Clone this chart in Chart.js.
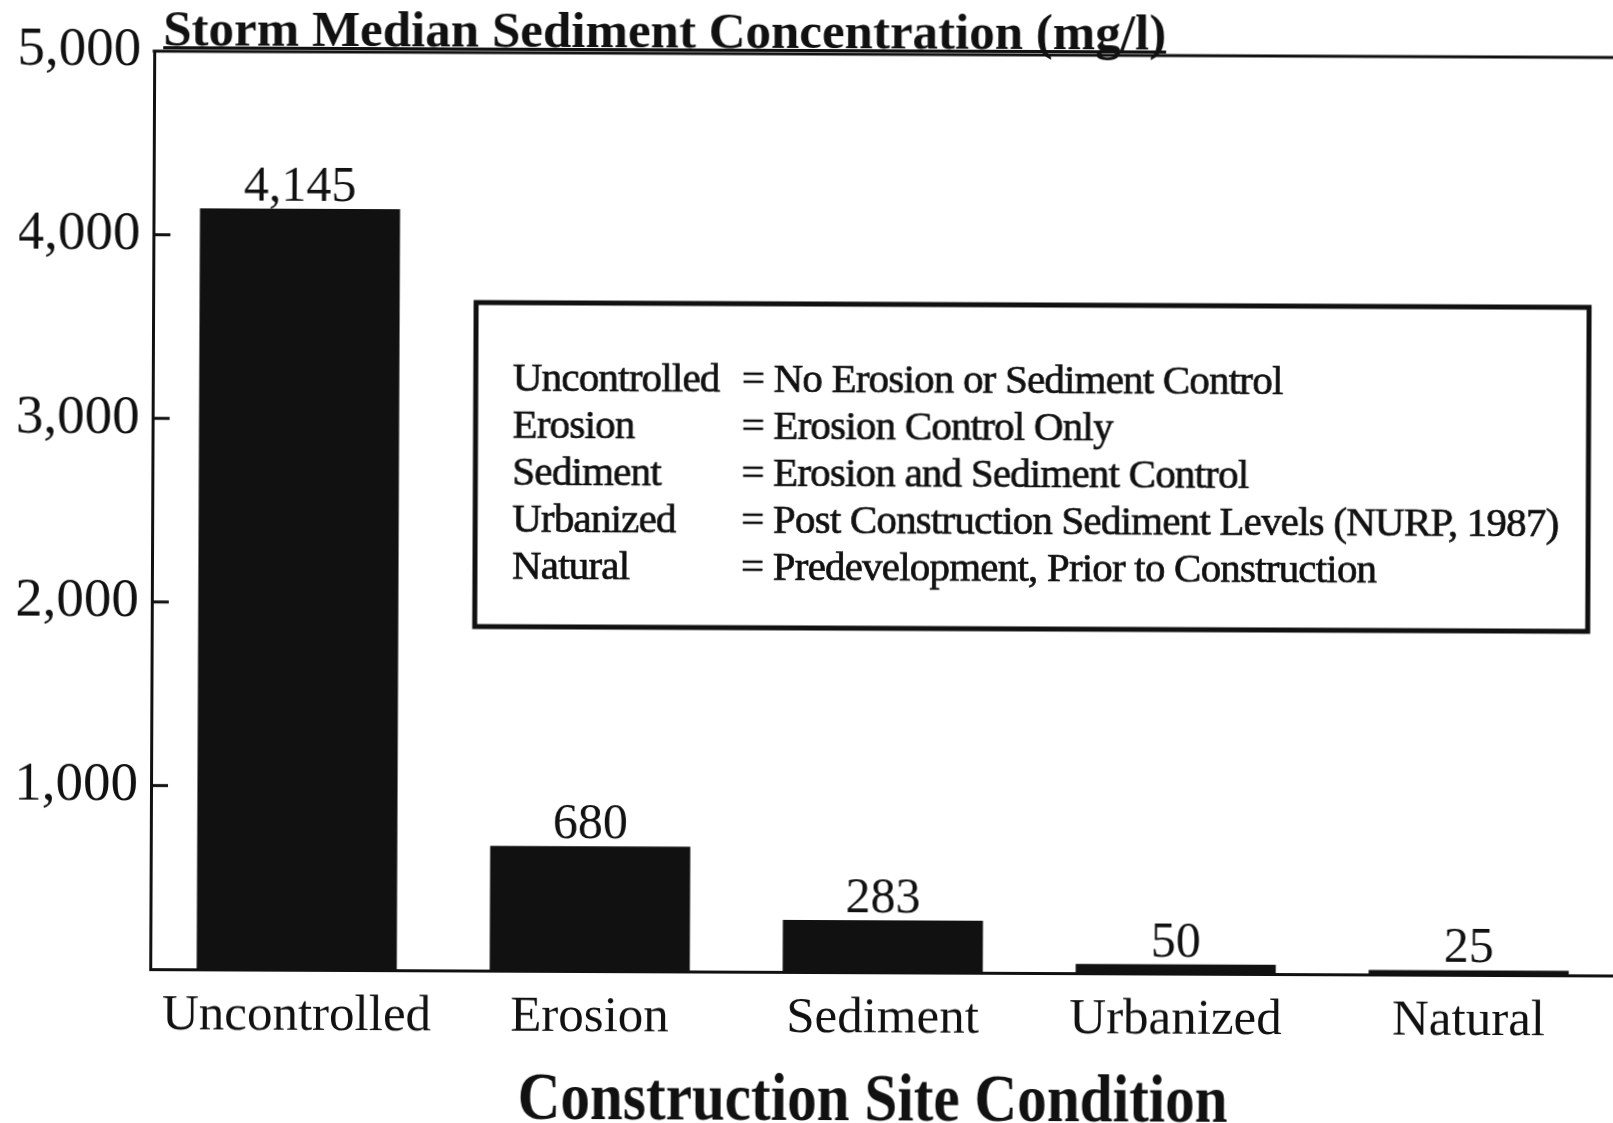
<!DOCTYPE html>
<html>
<head>
<meta charset="utf-8">
<title>Storm Median Sediment Concentration</title>
<script src="https://cdn.jsdelivr.net/npm/chart.js@4.4.1/dist/chart.umd.min.js"></script>
<style>
  html, body { margin: 0; padding: 0; background: #fff; overflow: hidden; }
  /* скан слегка повёрнут */
  canvas { display: block; transform: rotate(0.25deg); }
</style>
</head>
<body>
<canvas id="chart" width="1620" height="1123"></canvas>
<script>
// Данные
const categories = ['Uncontrolled', 'Erosion', 'Sediment', 'Urbanized', 'Natural'];
const values = [4145, 680, 283, 50, 25];
const yTicks = [0, 1000, 2000, 3000, 4000, 5000];
const yTickLabels = ['', '1,000', '2,000', '3,000', '4,000', '5,000'];
const legendTerms = ['Uncontrolled', 'Erosion', 'Sediment', 'Urbanized', 'Natural'];
const legendDefs = [
  '= No Erosion or Sediment Control',
  '= Erosion Control Only',
  '= Erosion and Sediment Control',
  '= Post Construction Sediment Levels (NURP, 1987)',
  '= Predevelopment, Prior to Construction'
];
const chartTitle = 'Storm Median Sediment Concentration (mg/l)';
const xTitle = 'Construction Site Condition';

const serif = '"Liberation Serif", "Times New Roman", serif';
const ink = '#111';
Chart.defaults.font.family = serif;
Chart.defaults.color = ink;

// Заголовки, верхняя линия, засечки, подписи и рамка с пояснениями
const extras = {
  id: 'extras',
  afterDraw(chart) {
    const { ctx, chartArea } = chart;
    const y = chart.scales.y;
    ctx.save();
    ctx.strokeStyle = ink;
    ctx.fillStyle = ink;

    ctx.lineWidth = 3;
    ctx.beginPath();
    ctx.moveTo(chartArea.left - 1.5, chartArea.top);
    ctx.lineTo(chart.width, chartArea.top);
    ctx.stroke();

    yTicks.slice(1, -1).forEach(v => {
      const py = y.getPixelForValue(v);
      ctx.beginPath();
      ctx.moveTo(chartArea.left, py);
      ctx.lineTo(chartArea.left + 17, py);
      ctx.stroke();
    });

    // верхний заголовок
    ctx.font = 'bold 51px ' + serif;
    ctx.textAlign = 'left';
    ctx.textBaseline = 'alphabetic';
    const tx = chartArea.left + 9;
    ctx.fillText(chartTitle, tx, chartArea.top - 6);
    ctx.fillRect(tx, chartArea.top - 5, ctx.measureText(chartTitle).width, 3);

    // подпись оси X (узкий жирный шрифт)
    ctx.save();
    ctx.translate(875, 1120);
    ctx.scale(0.87, 1);
    ctx.font = 'bold 68px ' + serif;
    ctx.textAlign = 'center';
    ctx.fillText(xTitle, 0, 0);
    ctx.restore();

    // значения над столбиками
    ctx.font = '50px ' + serif;
    ctx.textAlign = 'center';
    chart.getDatasetMeta(0).data.forEach((bar, i) => {
      ctx.fillText(values[i].toLocaleString('en-US'), bar.x, bar.y - 8);
    });

    // рамка с пояснениями
    ctx.lineWidth = 5;
    ctx.strokeRect(475, 304, 1113, 324);
    ctx.font = '41px ' + serif;
    ctx.letterSpacing = '-0.8px';
    ctx.lineWidth = 0.7;
    ctx.textAlign = 'left';
    ctx.textBaseline = 'middle';
    legendTerms.forEach((term, i) => {
      const ly = 381.5 + i * 46.9;
      ctx.fillText(term, 512, ly);
      ctx.strokeText(term, 512, ly);
      ctx.fillText(legendDefs[i], 741, ly);
      ctx.strokeText(legendDefs[i], 741, ly);
    });
    ctx.restore();
  }
};

new Chart(document.getElementById('chart'), {
  type: 'bar',
  data: {
    labels: categories,
    datasets: [{
      data: values,
      backgroundColor: ink,
      barPercentage: 0.683,
      categoryPercentage: 1
    }]
  },
  options: {
    responsive: false,
    animation: false,
    layout: { padding: { top: 54, right: 3, left: 18, bottom: 0 } },
    plugins: { legend: { display: false }, tooltip: { enabled: false } },
    scales: {
      x: {
        afterFit: s => { s.height = 151; },
        grid: { display: false, drawTicks: false },
        border: { display: true, width: 3, color: ink },
        ticks: { font: { size: 51 }, padding: 16, maxRotation: 0, autoSkip: false, color: ink }
      },
      y: {
        min: 0,
        max: 5000,
        afterBuildTicks: s => { s.ticks = yTicks.map(v => ({ value: v })); },
        afterFit: s => { s.width = 134; },
        grid: { display: false, drawTicks: false },
        border: { display: true, width: 3, color: ink },
        ticks: {
          font: { size: 55 },
          padding: 13,
          color: ink,
          callback: (v, i) => yTickLabels[i]
        }
      }
    }
  },
  plugins: [extras]
});
</script>
</body>
</html>
